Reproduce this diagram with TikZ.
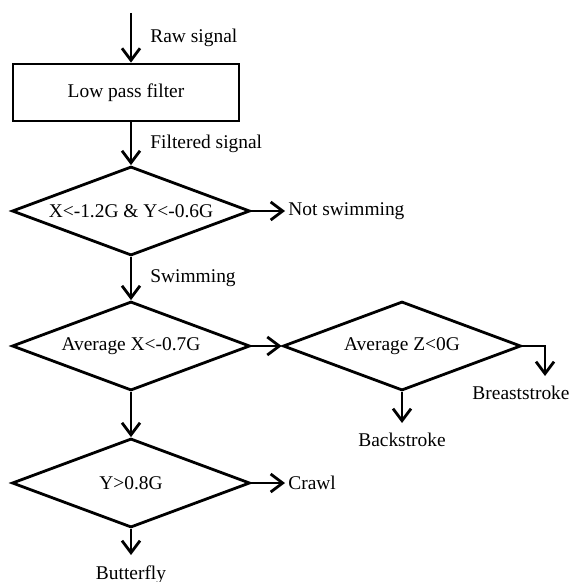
\documentclass[tikz,border=0pt]{standalone}
\usepackage{fontspec}
\setmainfont{Liberation Serif}
\usetikzlibrary{arrows.meta}
\usetikzlibrary{shapes.geometric}
\usetikzlibrary{positioning}
\tikzstyle{block}=[draw,rectangle,minimum width=226bp,minimum height=57bp,inner sep=0pt]
\tikzstyle{decision}=[draw,diamond,aspect=2.6,minimum width=238bp,minimum height=89bp,inner sep=0pt]
\tikzstyle{edge} = [draw,-{Straight Barb[length=12bp,width=18bp]}]
\tikzstyle{weight} = [anchor=west,xshift=18bp,inner sep=0pt]
\tikzstyle{result} = [inner xsep=2bp,inner ysep=9bp]

\begin{document}
\begin{tikzpicture}[x=1bp,y=-1bp,line width=2.8bp,font=\fontsize{19.5}{22}\selectfont]
  \useasboundingbox (0,0) rectangle (573,582);

  \def\cx{131};
  \def\rx{402};

  \coordinate (in) at (\cx,13);
  \node[block] (filter) at (126,92.5) {Low pass filter};

  % decisions
  \foreach \name/\x/\y/\txt in {swim/\cx/211/{X<-1.2G \& Y<-0.6G}, avgx/\cx/346/{Average X<-0.7G}, avgz/\rx/346/{Average Z<0G}, crawlq/\cx/483/{Y>0.8G}}
     \node[decision] (\name) at (\x,\y) {\txt};

  % outcomes
  \node[result,anchor=west] (notswim) at (285,211) {Not swimming};
  \node[result,anchor=west] (crawl) at (285,483) {Crawl};
  \node[result,anchor=north] (back) at (\rx,423) {Backstroke};
  \node[result,anchor=north] (breast) at (521,376) {Breaststroke};
  \node[result,anchor=north] (butter) at (\cx,555) {Butterfly};
  \coordinate (bend) at (545,346);

  \draw[edge] (in) -- node[weight] (rawlbl) {Raw signal} (in |- filter.north);
  \draw[edge] (filter.south -| swim.north) -- node[weight] (filtlbl) {Filtered signal} (swim.north);
  \draw[edge] (swim.south) -- node[weight] (swimlbl) {Swimming} (avgx.north);

  \foreach \source/\dest in {swim.east/notswim.west, avgx.east/avgz.west, avgx.south/crawlq.north, avgz.south/back.north, crawlq.east/crawl.west, crawlq.south/butter.north}
     \draw[edge] (\source) -- (\dest);

  \draw[edge] (avgz.east) -- (bend) -- (bend |- breast.north);

\end{tikzpicture}
\end{document}
